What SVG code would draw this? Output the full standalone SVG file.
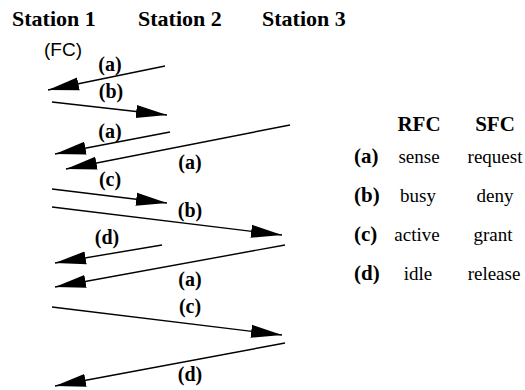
<svg xmlns="http://www.w3.org/2000/svg" width="525" height="390" viewBox="0 0 525 390">
  <style>
    .title { font-family: "Liberation Serif", "Times New Roman", Times, serif; font-weight: bold; font-size: 22px; fill: #000; }
    .fc { font-family: "Liberation Sans", Arial, sans-serif; font-size: 19px; fill: #000; }
    .lbl { font-family: "Liberation Serif", "Times New Roman", Times, serif; font-weight: bold; font-size: 20px; fill: #000; text-anchor: middle; }
    .key { font-family: "Liberation Serif", "Times New Roman", Times, serif; font-weight: bold; font-size: 21px; fill: #000; }
    .val { font-family: "Liberation Serif", "Times New Roman", Times, serif; font-size: 19px; fill: #000; text-anchor: middle; }
    .msg { stroke: #000; stroke-width: 1.4; fill: none; marker-end: url(#head); }
  </style>
  <defs>
    <marker id="head" markerUnits="userSpaceOnUse" markerWidth="32" markerHeight="16" viewBox="-31 -8 32 16" refX="0" refY="0" orient="auto">
      <path d="M0,0 L-31,-6.5 L-31,6.5 z" fill="#000"/>
    </marker>
  </defs>

  <!-- station headings -->
  <g id="station1">
    <text class="title" x="12" y="26">Station 1</text>
    <text class="fc" x="44" y="56">(FC)</text>
  </g>
  <g id="station2">
    <text class="title" x="138" y="26">Station 2</text>
  </g>
  <g id="station3">
    <text class="title" x="262" y="26">Station 3</text>
  </g>

  <!-- message arrows -->
  <g id="connectors">
    <line class="msg" x1="165" y1="66" x2="48" y2="90"/>
    <line class="msg" x1="52" y1="102" x2="167" y2="115"/>
    <line class="msg" x1="170" y1="132" x2="55" y2="154"/>
    <line class="msg" x1="290" y1="125" x2="66" y2="169"/>
    <line class="msg" x1="52" y1="189" x2="167" y2="203"/>
    <line class="msg" x1="52" y1="207" x2="282" y2="235"/>
    <line class="msg" x1="162" y1="245" x2="55" y2="263"/>
    <line class="msg" x1="285" y1="245" x2="55" y2="287"/>
    <line class="msg" x1="52" y1="307" x2="282" y2="335"/>
    <line class="msg" x1="285" y1="343" x2="55" y2="386"/>
  </g>

  <!-- message labels -->
  <g id="labels">
    <text class="lbl" x="110" y="71">(a)</text>
    <text class="lbl" x="111" y="98">(b)</text>
    <text class="lbl" x="110" y="138">(a)</text>
    <text class="lbl" x="190" y="169">(a)</text>
    <text class="lbl" x="110" y="186">(c)</text>
    <text class="lbl" x="190" y="217">(b)</text>
    <text class="lbl" x="107" y="244">(d)</text>
    <text class="lbl" x="190" y="286">(a)</text>
    <text class="lbl" x="190" y="313">(c)</text>
    <text class="lbl" x="190" y="381">(d)</text>
  </g>

  <!-- legend table -->
  <g id="legend">
    <text class="key" x="419" y="131" text-anchor="middle">RFC</text>
    <text class="key" x="495" y="131" text-anchor="middle">SFC</text>
    <text class="key" x="354" y="163">(a)</text>
    <text class="val" x="419" y="163">sense</text>
    <text class="val" x="495" y="163">request</text>
    <text class="key" x="354" y="202">(b)</text>
    <text class="val" x="418" y="202">busy</text>
    <text class="val" x="495" y="202">deny</text>
    <text class="key" x="354" y="241">(c)</text>
    <text class="val" x="417" y="241">active</text>
    <text class="val" x="493" y="241">grant</text>
    <text class="key" x="354" y="280">(d)</text>
    <text class="val" x="418" y="280">idle</text>
    <text class="val" x="494" y="280">release</text>
  </g>
</svg>
